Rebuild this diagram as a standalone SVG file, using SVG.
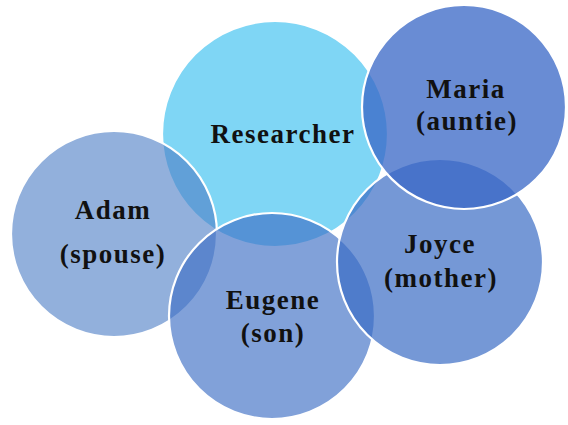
<svg xmlns="http://www.w3.org/2000/svg" width="568" height="425" viewBox="0 0 568 425">
<style>
.c{stroke:#ffffff;stroke-width:2.2}
.t{font-family:"Liberation Serif","Times New Roman",serif;font-weight:bold;font-size:27px;fill:#111111;text-anchor:middle;letter-spacing:1.5px}
</style>
<rect width="568" height="425" fill="#ffffff"/>
<g id="researcher">
<circle class="c" cx="275" cy="134" r="113" fill="#7fd6f5"/>
</g>
<g id="adam">
<circle class="c" cx="114" cy="234" r="103" fill="#4f7fc6" fill-opacity="0.62"/>
</g>
<g id="eugene">
<circle class="c" cx="272" cy="316" r="103" fill="#3f70c6" fill-opacity="0.66"/>
</g>
<g id="joyce">
<circle class="c" cx="440" cy="262" r="103" fill="#3a6cc4" fill-opacity="0.7"/>
</g>
<g id="maria">
<circle class="c" cx="464" cy="107" r="102" fill="#3a68c6" fill-opacity="0.76"/>
</g>
<g id="labels">
<text class="t" x="283" y="143">Researcher</text>
<text class="t" x="466" y="98">Maria</text>
<text class="t" x="467" y="130">(auntie)</text>
<text class="t" x="440" y="253">Joyce</text>
<text class="t" x="441" y="287">(mother)</text>
<text class="t" x="113" y="219">Adam</text>
<text class="t" x="113" y="263">(spouse)</text>
<text class="t" x="273" y="309">Eugene</text>
<text class="t" x="273" y="342">(son)</text>
</g>
</svg>
